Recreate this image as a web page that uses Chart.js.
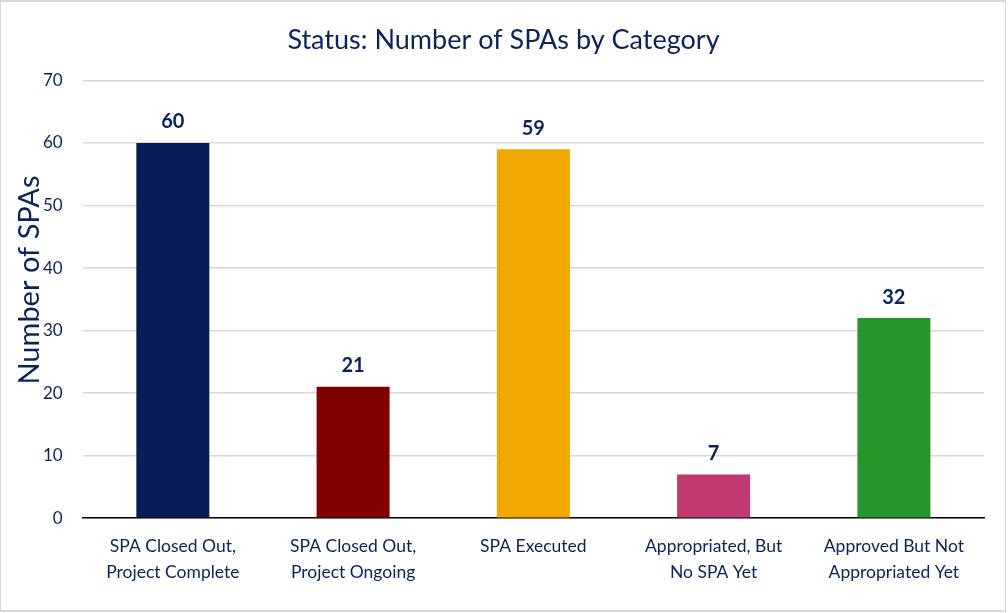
<!DOCTYPE html>
<html>
<head>
<meta charset="utf-8">
<script src="https://cdn.jsdelivr.net/npm/chart.js@4"></script>
<style>
  html, body { margin: 0; padding: 0; background: #fff; }
  #wrap { width: 1004px; height: 608px; border: 1px solid #d9d9d9; border-top-width: 2px; border-bottom-width: 2px; position: relative; }
</style>
</head>
<body>
<div id="wrap"><canvas id="spaChart" width="1004" height="608"></canvas></div>
<script>
const categories = [
  ['SPA Closed Out,', 'Project Complete'],
  ['SPA Closed Out,', 'Project Ongoing'],
  ['SPA Executed'],
  ['Appropriated, But', 'No SPA Yet'],
  ['Approved But Not', 'Appropriated Yet']
];
const spaCounts = [60, 21, 59, 7, 32];
const barColors = ['#061d57', '#800000', '#f0a800', '#c0396f', '#27962a'];
const yTicks = [0, 10, 20, 30, 40, 50, 60, 70];

const navy = '#0c2356';
const fontFam = 'Lato, "Open Sans", sans-serif';

// draw the value above each bar, and the y axis title (it overlaps the ticks a bit in the original)
const valueLabels = {
  id: 'valueLabels',
  afterDatasetsDraw(chart) {
    const ctx = chart.ctx;
    const meta = chart.getDatasetMeta(0);
    ctx.save();
    ctx.fillStyle = navy;
    ctx.font = 'bold 20px ' + fontFam;
    ctx.textAlign = 'center';
    ctx.textBaseline = 'bottom';
    meta.data.forEach((bar, i) => {
      ctx.fillText(spaCounts[i], bar.x, bar.y - 11);
    });
    ctx.translate(29, 278);
    ctx.rotate(-Math.PI / 2);
    ctx.textBaseline = 'middle';
    ctx.font = '29px ' + fontFam;
    ctx.fillText('Number of SPAs', 0, 0);
    ctx.restore();
  }
};

new Chart(document.getElementById('spaChart'), {
  type: 'bar',
  data: {
    labels: categories,
    datasets: [{
      label: 'Number of SPAs',
      data: spaCounts,
      backgroundColor: barColors,
      borderWidth: 0,
      categoryPercentage: 1,
      barPercentage: 0.405
    }]
  },
  options: {
    responsive: false,
    animation: false,
    layout: { padding: { left: 22, right: 21, top: 4, bottom: 18 } },
    scales: {
      x: {
        grid: { display: false },
        border: { color: '#000', width: 1.5 },
        ticks: { color: navy, font: { family: fontFam, size: 17.5, lineHeight: 1.48 }, padding: 7, maxRotation: 0, autoSkip: false }
      },
      y: {
        min: 0,
        max: 70,
        afterBuildTicks: axis => { axis.ticks = yTicks.map(v => ({ value: v })); },
        grid: { color: '#d9d9d9', lineWidth: 1.5, drawTicks: false },
        border: { display: false },
        ticks: { color: navy, font: { family: fontFam, size: 17 }, padding: 20 }
      }
    },
    plugins: {
      legend: { display: false },
      tooltip: { enabled: false },
      title: {
        display: true,
        text: 'Status: Number of SPAs by Category',
        color: navy,
        font: { family: fontFam, size: 27, weight: 'normal' },
        padding: { top: 18, bottom: 24 }
      }
    }
  },
  plugins: [valueLabels]
});
</script>
</body>
</html>
